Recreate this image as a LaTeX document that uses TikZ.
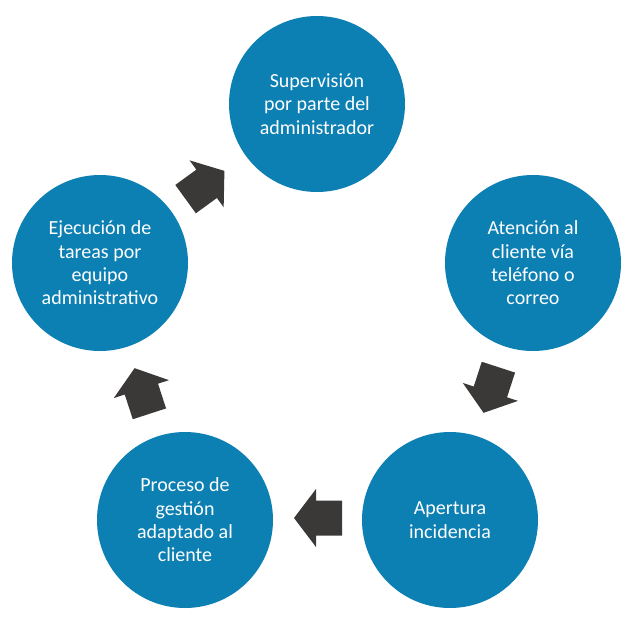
\documentclass[tikz,border=0pt]{standalone}
\usepackage{fontspec}
\setmainfont{Carlito}
\definecolor{cblue}{HTML}{0C7FB3}
\definecolor{carrow}{HTML}{3B3838}
\tikzset{
  circ/.style={circle, fill=cblue, minimum size=176pt, inner sep=0pt, text=white,
    font=\fontsize{20}{23.3}\selectfont, align=center},
  blockarrow/.pic={\fill[carrow] (-24,17.5) -- (2,17.5) -- (2,29) -- (24,0) -- (2,-29) -- (2,-17.5) -- (-24,-17.5) -- cycle;}
}
\begin{document}
\begin{tikzpicture}[x=1pt,y=1pt]
\useasboundingbox (0,0) rectangle (635,-619);
\node[circ] (top) at (317,-104) {Supervisión\\por parte del\\administrador};
\node[circ] (right) at (533,-263) {Atención al\\cliente vía\\teléfono o\\correo};
\node[circ] (br) at (450,-520) {Apertura\\incidencia};
\node[circ] (bl) at (185,-520) {Proceso de\\gestión\\adaptado al\\cliente};
\node[circ] (left) at (100,-263) {Ejecución de\\tareas por\\equipo\\administrativo};
\pic[rotate=-108] at (491,-390) {blockarrow};
\pic[rotate=180] at (318,-518) {blockarrow};
\pic[rotate=108] at (142,-391) {blockarrow};
\pic[rotate=36] at (205,-185) {blockarrow};
\end{tikzpicture}
\end{document}
